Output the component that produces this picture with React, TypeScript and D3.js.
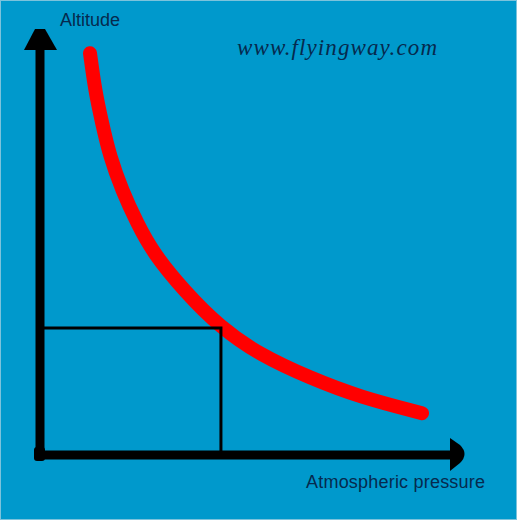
import * as d3 from 'd3';

// curve: pressure (0-100) vs altitude (0-100)
const pressure = [12.05, 13.25, 14.94, 16.87, 19.76, 23.37, 27.23, 34.94, 43.37, 53.01, 65.06, 77.11, 92.05];
const altitude = [98.0, 89.0, 81.0, 72.7, 64.6, 56.6, 49.3, 39.8, 31.2, 24.4, 18.8, 14.1, 10.2];

// marked level (the box under the curve)
const markPressure = 43.6;
const markAltitude = 31.0;

const xLabel = 'Atmospheric pressure';
const yLabel = 'Altitude';
const site = 'www.flyingway.com';

const W = 517;
const H = 520;

const App = () => {
  const x = d3.scaleLinear().domain([0, 100]).range([40, 455]);
  const y = d3.scaleLinear().domain([0, 100]).range([455, 45]);

  const pts: [number, number][] = pressure.map((p, i) => [p, altitude[i]]);
  const line = d3.line<[number, number]>()
    .x(d => x(d[0]))
    .y(d => y(d[1]))
    .curve(d3.curveBasis);

  const x0 = x(0);
  const y0 = y(0);
  const yTop = y(100) + 5; // arrow base
  const xEnd = x(100) - 5;

  // arrowheads
  const upArrow = `M${x0 - 5},${yTop - 21} L${x0 + 5},${yTop - 21} L${x0 + 17},${yTop} L${x0 - 16},${yTop} Z`;
  const rightArrow = `M${xEnd},${y0 - 17} L${xEnd + 10},${y0 - 10} Q${xEnd + 19},${y0 - 1} ${xEnd + 10},${y0 + 8} L${xEnd},${y0 + 16} Z`;

  return (
    <svg width={W} height={H} style={{ position: 'absolute', left: 0, top: 0, display: 'block' }}>
      <rect x={0.5} y={0.5} width={W - 1} height={H - 1} fill="#0099cc" stroke="#7cc3dc" strokeWidth={1} />

      {/* axes */}
      <line x1={x0} y1={y0} x2={x0} y2={yTop} stroke="#000" strokeWidth={9} />
      <line x1={x0} y1={y0} x2={xEnd} y2={y0} stroke="#000" strokeWidth={9} />
      <rect x={x0 - 6} y={y0 - 8} width={11} height={14} rx={3} fill="#000" />
      <path d={upArrow} fill="#000" />
      <path d={rightArrow} fill="#000" />

      {/* curve */}
      <path d={line(pts) ?? ''} fill="none" stroke="#ff0000" strokeWidth={14} strokeLinecap="round" />

      {/* box at marked level */}
      <path
        d={`M${x0 + 4},${y(markAltitude)} L${x(markPressure)},${y(markAltitude)} L${x(markPressure)},${y0}`}
        fill="none"
        stroke="#000"
        strokeWidth={3}
      />

      {/* labels */}
      <text x={60} y={26} fontFamily="Liberation Sans, Arial, sans-serif" fontSize={18} fill="#062a4e">
        {yLabel}
      </text>
      <text x={306} y={488} fontFamily="Liberation Sans, Arial, sans-serif" fontSize={18} fill="#062a4e" textLength={179}>
        {xLabel}
      </text>
      <text x={237} y={55} fontFamily="Liberation Serif, serif" fontStyle="italic" fontSize={23} fill="#062a4e" textLength={200}>
        {site}
      </text>
    </svg>
  );
};

export default App;
